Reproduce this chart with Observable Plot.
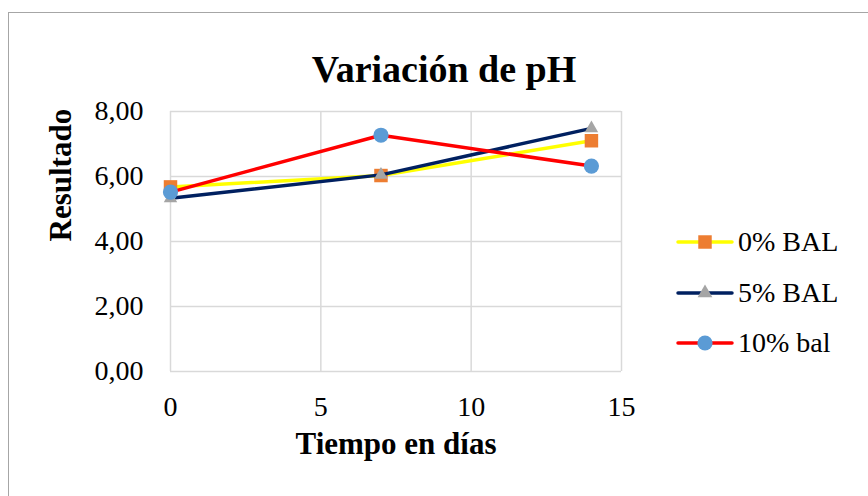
<!DOCTYPE html>
<html>
<head>
<meta charset="utf-8">
<script src="https://cdn.jsdelivr.net/npm/d3@7"></script>
<script src="https://cdn.jsdelivr.net/npm/@observablehq/plot@0.6"></script>
<style>
  html, body { margin: 0; padding: 0; background: #fff; overflow: hidden; }
  #wrap { position: relative; width: 868px; height: 496px; overflow: hidden; font-family: 'Liberation Serif', 'DejaVu Serif'; font-size: 28px; }
  #border { position: absolute; left: 8px; top: 12px; width: 1000px; height: 1000px; border-left: 1.5px solid #a6a6a6; border-top: 1.5px solid #a6a6a6; box-sizing: border-box; }
  #chart { position: absolute; left: 0; top: 0; }
  .leg { position: absolute; left: 676px; height: 40px; display: flex; align-items: center; font-size: 28px; color: #000; white-space: nowrap; font-family: 'Liberation Serif', 'DejaVu Serif'; }
  .leg svg { display: block; margin-right: 4px; }
</style>
</head>
<body><div id="wrap"><div id="border"></div><div id="chart"></div></div>
<script>
// ---- data ----
const days = [0, 7, 14];
const seriesNames = ["0% BAL", "5% BAL", "10% bal"];
const ph0 = [5.68, 6.03, 7.10];
const ph5 = [5.33, 6.05, 7.48];
const ph10 = [5.52, 7.27, 6.32];
const xTicks = [0, 5, 10, 15];
const yTicks = [0, 2, 4, 6, 8];
const title = "Variación de pH";
const xLabel = "Tiempo en días";
const yLabel = "Resultado";

// ---- styles ----
const seriesValues = [ph0, ph5, ph10];
const lineColors = ["#ffff00", "#002060", "#ff0000"];
const markerColors = ["#ed7d31", "#a5a5a5", "#5b9bd5"];
const symbols = ["square", "triangle", "circle"];
const markerR = [7.6, 5.0, 7.6];

const rows = seriesNames.flatMap((s, i) =>
  days.map((d, j) => ({ series: s, idx: i, day: d, ph: seriesValues[i][j] })));

const fmt = d => d.toFixed(2).replace(".", ",");
const grid = { stroke: "#d9d9d9", strokeOpacity: 1, strokeWidth: 1.5 };
const F = "Liberation Serif";
const FR = "'Liberation Serif', 'DejaVu Serif'";

const seriesMarks = seriesNames.flatMap((s, i) => {
  const data = rows.filter(r => r.idx === i);
  return [
    Plot.line(data, { x: "day", y: "ph", stroke: lineColors[i], strokeWidth: 3.5 }),
    Plot.dot(data, { x: "day", y: "ph", symbol: symbols[i], r: markerR[i], fill: markerColors[i], stroke: "none" })
  ];
});

const chart = Plot.plot({
  width: 868,
  height: 496,
  marginLeft: 170,
  marginRight: 247,
  marginTop: 111,
  marginBottom: 125,
  style: "font-family: 'Liberation Serif', 'DejaVu Serif'; font-size: 28px; background: transparent; color: #000;",
  x: { domain: [0, 15] },
  y: { domain: [0, 8] },
  marks: [
    Plot.gridX(xTicks, grid),
    Plot.gridY(yTicks, grid),
    Plot.axisX(xTicks, { tickSize: 0, tickPadding: 25, label: null, fontSize: 28, fontFamily: FR }),
    Plot.axisY(yTicks, { tickSize: 0, tickPadding: 27, tickFormat: fmt, label: null, fontSize: 28, fontFamily: FR }),
    ...seriesMarks,
    Plot.text([title], { frameAnchor: "top", text: d => d, dx: 48, dy: -56, fontSize: 38, fontWeight: "bold", fontFamily: F }),
    Plot.text([xLabel], { frameAnchor: "bottom", text: d => d, dy: 82, fontSize: 31, fontWeight: "bold", fontFamily: F }),
    Plot.text([yLabel], { frameAnchor: "left", text: d => d, rotate: -90, dx: -109, fontSize: 31, fontWeight: "bold", fontFamily: F })
  ]
});
document.getElementById("chart").appendChild(chart);

// ---- legend ----
const wrap = document.getElementById("wrap");
seriesNames.forEach((name, i) => {
  const row = document.createElement("div");
  row.className = "leg";
  row.style.top = (222 + i * 50.5) + "px";
  const svg = d3.create("svg").attr("width", 58).attr("height", 20);
  svg.append("line").attr("x1", 2).attr("x2", 56).attr("y1", 10).attr("y2", 10)
    .attr("stroke", lineColors[i]).attr("stroke-width", 3.5).attr("stroke-linecap", "round");
  const symMap = { square: d3.symbolSquare, triangle: d3.symbolTriangle, circle: d3.symbolCircle };
  svg.append("path").attr("transform", "translate(29,10)")
    .attr("d", d3.symbol(symMap[symbols[i]], Math.PI * markerR[i] * markerR[i] * (i === 1 ? 1.2 : 1))())
    .attr("fill", markerColors[i]);
  row.appendChild(svg.node());
  const t = document.createElement("span");
  t.textContent = name;
  row.appendChild(t);
  wrap.appendChild(row);
});
</script>
</body>
</html>
